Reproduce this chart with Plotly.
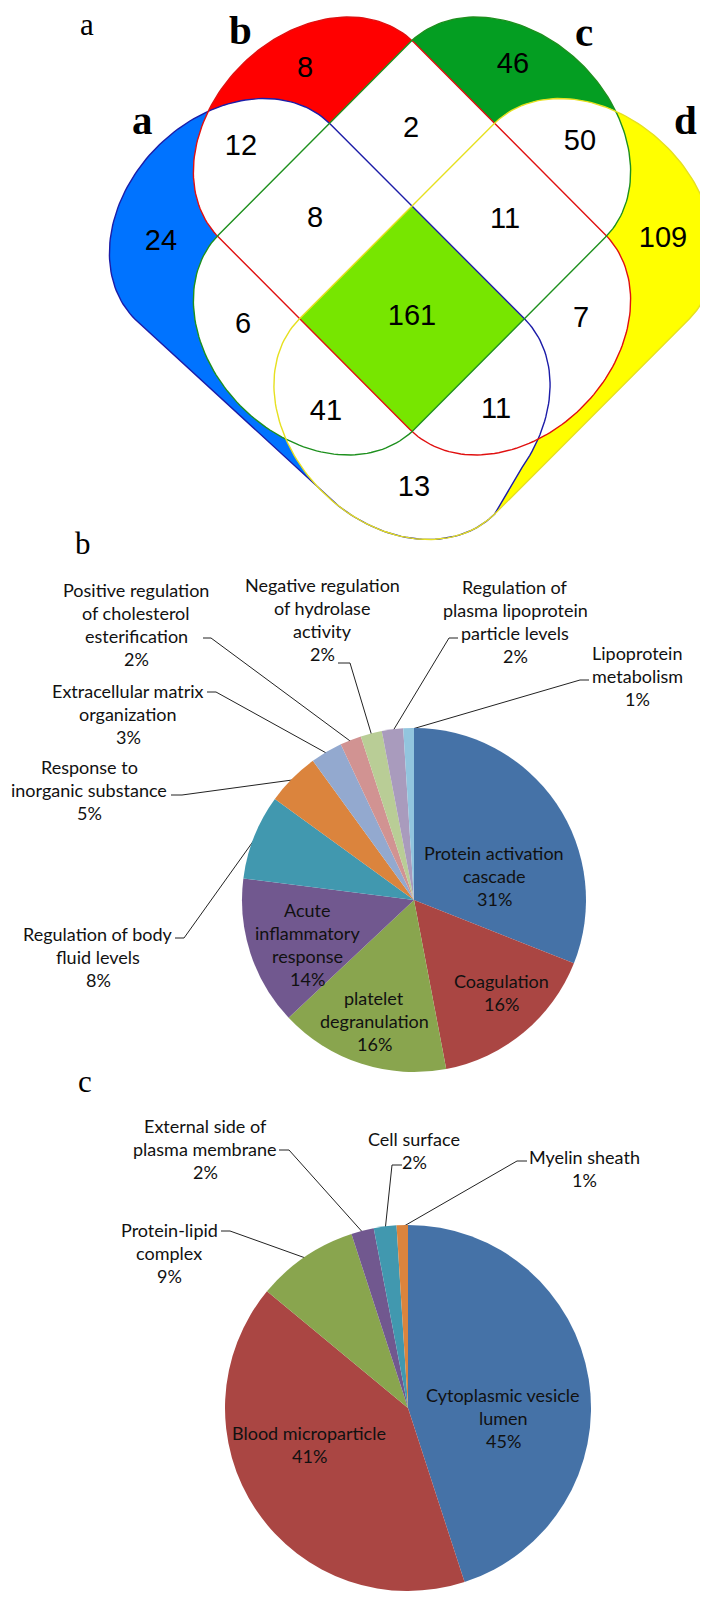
import numpy as np
import plotly.graph_objects as go

W, H = 708, 1603

# ---- data -------------------------------------------------------------
venn_sets = ["a", "b", "c", "d"]
venn_regions = ["a", "b", "c", "d", "ab", "bc", "cd", "abc", "bcd",
                "ac", "abcd", "bd", "acd", "abd", "ad"]
venn_counts = [24, 8, 46, 109, 12, 2, 50, 8, 11, 6, 161, 7, 41, 11, 13]

bp_categories = ["Protein activation\ncascade", "Coagulation",
                 "platelet\ndegranulation", "Acute\ninflammatory\nresponse",
                 "Regulation of body\nfluid levels",
                 "Response to\ninorganic substance",
                 "Extracellular matrix\norganization",
                 "Positive regulation\nof cholesterol\nesterification",
                 "Negative regulation\nof hydrolase\nactivity",
                 "Regulation of\nplasma lipoprotein\nparticle levels",
                 "Lipoprotein\nmetabolism"]
bp_values = [31, 16, 16, 14, 8, 5, 3, 2, 2, 2, 1]

cc_categories = ["Cytoplasmic vesicle\nlumen", "Blood microparticle",
                 "Protein-lipid\ncomplex", "External side of\nplasma membrane",
                 "Cell surface", "Myelin sheath"]
cc_values = [45, 41, 9, 2, 2, 1]

# ---- styling / layout -------------------------------------------------
EXCEL = ["#4572A7", "#AA4643", "#89A54E", "#71588F", "#4198AF", "#DB843D",
         "#93A9CF", "#D19392", "#B9CD96", "#A99BBD", "#92C5DE"]

# each venn set is a capsule along a 45 degree axis (two cap centres)
venn_axes = {"a": ((224.5, 213.5), (419, 408.5)),
             "b": ((308.5, 132), (499.5, 324)),
             "c": ((499.5, 132), (308.5, 324)),
             "d": ((583.5, 213.5), (389, 408.5))}
venn_fill = {"a": "#0073FF", "b": "#FF0000", "c": "#049E22", "d": "#FFFF00"}
venn_edge = {"a": "#1c1ca8", "b": "#e01010", "c": "#1e901e", "d": "#e6e020"}
core_fill = "#77E600"

region_pos = {"a": (153, 235), "b": (297, 62), "c": (505, 58), "d": (655, 232),
              "ab": (233, 140), "bc": (403, 122), "cd": (572, 135),
              "abc": (307, 212), "bcd": (497, 213), "ac": (235, 318),
              "abcd": (404, 310), "bd": (573, 312), "acd": (318, 405),
              "abd": (488, 403), "ad": (406, 481)}
set_label_pos = {"a": (134, 112), "b": (232, 22), "c": (576, 24), "d": (677, 112)}

PIE_B = (406, 892, 172)
PIE_C = (400, 1400, 183)
LINE_H = 23
TEXT_SIZE = 18

bp_text_pos = [(486, 845), (493, 973), (366, 990), (299, 902), (90, 926),
               (81, 759), (120, 683), (128, 582), (314, 577), (507, 579),
               (629, 645)]
bp_leaders = {4: (167, 176, 930), 5: (163, 174, 787), 6: (199, 208, 684),
              7: (195, 203, 630), 8: (330, 342, 655), 9: (450, 441, 630),
              10: (581, 572, 672)}

cc_text_pos = [(495, 1387), (301, 1425), (161, 1222), (197, 1118),
               (406, 1131), (576, 1149)]
cc_leaders = {2: (213, 222, 1223), 3: (271, 281, 1142), 4: (394, 384, 1157),
              5: (519, 509, 1153)}


def capsule(c1, c2, a=138, b=106, n=90):
    c1, c2 = np.array(c1, float), np.array(c2, float)
    t = (c2 - c1) / np.linalg.norm(c2 - c1)
    nrm = np.array([t[1], -t[0]])
    phi = np.linspace(0, np.pi, n)
    cap1 = c1 + np.outer(a * np.cos(phi), nrm) - np.outer(b * np.sin(phi), t)
    cap2 = c2 - np.outer(a * np.cos(phi), nrm) + np.outer(b * np.sin(phi), t)
    return np.vstack([cap1, cap2])


def orientation(poly):
    x, y = poly[:, 0], poly[:, 1]
    return np.sign(np.sum(x * np.roll(y, -1) - np.roll(x, -1) * y))


def clip(subject, clipper):
    # Sutherland-Hodgman, convex clipper
    s = orientation(clipper)
    out = [np.array(p) for p in subject]
    for i in range(len(clipper)):
        a, b = clipper[i - 1], clipper[i]
        inp, out = out, []
        if not inp:
            break
        if np.allclose(a, b):
            out = inp
            continue

        def inside(p):
            return s * ((b[0] - a[0]) * (p[1] - a[1]) - (b[1] - a[1]) * (p[0] - a[0])) >= 0

        def cross_pt(p, q):
            d1, d2 = q - p, b - a
            den = d1[0] * d2[1] - d1[1] * d2[0]
            u = ((a[0] - p[0]) * d2[1] - (a[1] - p[1]) * d2[0]) / den
            return p + u * d1

        for j in range(len(inp)):
            p, q = inp[j - 1], inp[j]
            ip, iq = inside(p), inside(q)
            if iq:
                if not ip:
                    out.append(cross_pt(p, q))
                out.append(q)
            elif ip:
                out.append(cross_pt(p, q))
    return np.array(out)


def snap_bottom(shape, other, ylim_left=480, ylim_right=462, xmid=404):
    # the lower tip of a runs along the round bottom of d
    out = shape.copy()
    for i, p in enumerate(shape):
        if p[1] > (ylim_left if p[0] < xmid else ylim_right):
            out[i] = other[np.argmin(np.hypot(*(other - p).T))]
    return out


def poly_trace(pts, color):
    pts = np.vstack([pts, pts[:1]])
    return go.Scatter(x=pts[:, 0], y=pts[:, 1], mode="lines", fill="toself",
                      fillcolor=color, line=dict(width=0), hoverinfo="skip",
                      showlegend=False)


def slice_point(values, i, cx, cy, r):
    cum = sum(values[:i]) + values[i] / 2
    ang = 2 * np.pi * cum / sum(values)
    return cx + r * np.sin(ang), cy - r * np.cos(ang)


def domain(cx, cy, r):
    return dict(x=[(cx - r) / W, (cx + r) / W], y=[1 - (cy + r) / H, 1 - (cy - r) / H])


fig = go.Figure()

# ---- venn -------------------------------------------------------------
shapes = {k: capsule(*venn_axes[k]) for k in venn_sets}
shapes["a"] = snap_bottom(shapes["a"], shapes["d"])
for k in venn_sets:
    fig.add_trace(poly_trace(shapes[k], venn_fill[k]))
for i, k1 in enumerate(venn_sets):
    for k2 in venn_sets[i + 1:]:
        fig.add_trace(poly_trace(clip(shapes[k1], shapes[k2]), "white"))
core = shapes["a"]
for k in venn_sets[1:]:
    core = clip(core, shapes[k])
fig.add_trace(poly_trace(core, core_fill))
for k in venn_sets:
    pts = np.vstack([shapes[k], shapes[k][:1]])
    fig.add_trace(go.Scatter(x=pts[:, 0], y=pts[:, 1], mode="lines",
                             line=dict(color=venn_edge[k], width=1.4),
                             hoverinfo="skip", showlegend=False))

fig.add_trace(go.Scatter(
    x=[region_pos[r][0] for r in venn_regions],
    y=[region_pos[r][1] for r in venn_regions],
    text=[str(c) for c in venn_counts], mode="text",
    textfont=dict(family="Liberation Sans, Arial", size=29, color="black"),
    hoverinfo="skip", showlegend=False))

annotations = []
for k in venn_sets:
    annotations.append(dict(x=set_label_pos[k][0], y=set_label_pos[k][1], text=f"<b>{k}</b>",
                            font=dict(family="Liberation Serif, Times New Roman", size=41,
                                      color="black")))
for lab, (x, y) in zip(["a", "b", "c"], [(79, 16), (75, 535), (77, 1073)]):
    annotations.append(dict(x=x, y=y, text=lab,
                            font=dict(family="Liberation Serif, Times New Roman", size=31,
                                      color="black")))


# ---- pies -------------------------------------------------------------
def add_pie(categories, values, geom, text_pos, leaders):
    cx, cy, r = geom
    fig.add_trace(go.Pie(values=values, labels=[c.replace("\n", " ") for c in categories],
                         marker=dict(colors=EXCEL[:len(values)]), sort=False,
                         direction="clockwise", rotation=0, textinfo="none",
                         domain=domain(cx, cy, r), showlegend=False))
    for cat, v, (x, y0) in zip(categories, values, text_pos):
        lines = cat.split("\n") + [f"{v}%"]
        for j, line in enumerate(lines):
            annotations.append(dict(x=x, y=y0 + j * LINE_H, text=line,
                                    font=dict(family="Lato, Open Sans", size=TEXT_SIZE,
                                              color="#111111")))
    for i, (x0, x1, y) in leaders.items():
        px, py = slice_point(values, i, cx, cy, r - 2)
        fig.add_trace(go.Scatter(x=[x0, x1, px], y=[y, y, py], mode="lines",
                                 line=dict(color="#222222", width=1),
                                 hoverinfo="skip", showlegend=False))


add_pie(bp_categories, bp_values, PIE_B, bp_text_pos, bp_leaders)
add_pie(cc_categories, cc_values, PIE_C, cc_text_pos, cc_leaders)

for a in annotations:
    a.update(xref="x", yref="y", showarrow=False, xanchor="center", yanchor="middle")

fig.update_layout(
    width=W, height=H,
    margin=dict(l=0, r=0, t=0, b=0),
    paper_bgcolor="white", plot_bgcolor="white",
    xaxis=dict(range=[0, W], visible=False, fixedrange=True, domain=[0, 1]),
    yaxis=dict(range=[H, 0], visible=False, fixedrange=True, domain=[0, 1]),
    annotations=annotations,
    showlegend=False,
)

fig.write_html("out.html")
